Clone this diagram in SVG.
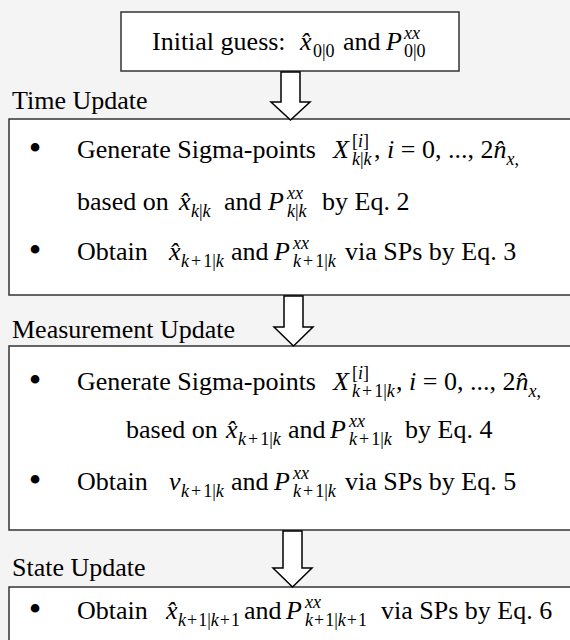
<svg xmlns="http://www.w3.org/2000/svg" width="570" height="640" viewBox="0 0 570 640">
<style>
.bg{fill:#f4f4f4}
.box{fill:#fff;stroke:#333;stroke-width:1.5}
.arr{fill:#fff;stroke:#000;stroke-width:1.5;stroke-linejoin:miter}
.t{font-family:"Liberation Serif","Times New Roman",serif;font-size:26px;fill:#000}
.b{font-family:"Liberation Serif","Times New Roman",serif;font-size:36px;fill:#000;text-anchor:middle}
.i{font-style:italic}
.s{font-size:18px}
</style>
<rect class="bg" x="0" y="0" width="570" height="640"/>
<g id="init">
<rect class="box" x="121" y="12" width="338" height="59"/>
<text class="t" x="152" y="50">Initial guess:<tspan class="i" x="300">x̂</tspan><tspan class="s" x="313" y="57">0|0</tspan><tspan x="343" y="50">and</tspan><tspan class="i" x="386">P</tspan><tspan class="s i" x="404" y="39">xx</tspan><tspan class="s" x="404" y="57">0|0</tspan></text>
</g>
<g id="time-update">
<text class="t" x="12" y="109">Time Update</text>
<rect class="box" x="9" y="119" width="570" height="176"/>
<text class="b" x="35" y="160">•</text>
<text class="t" x="77" y="158">Generate Sigma-points<tspan class="i" x="333">X</tspan><tspan class="s" x="352" y="147">[<tspan class="i">i</tspan>]</tspan><tspan class="s" x="352" y="165"><tspan class="i">k</tspan>|<tspan class="i">k</tspan></tspan><tspan x="374" y="158">, <tspan class="i">i</tspan> = 0, ..., 2<tspan class="i">n̂</tspan></tspan><tspan class="s i" y="165">x</tspan><tspan class="s">,</tspan></text>
<text class="t" x="77" y="210">based on<tspan class="i" x="179">x̂</tspan><tspan class="s" x="191" y="217"><tspan class="i">k</tspan>|<tspan class="i">k</tspan></tspan><tspan x="224" y="210">and</tspan><tspan class="i" x="268">P</tspan><tspan class="s i" x="287" y="199">xx</tspan><tspan class="s" x="287" y="217"><tspan class="i">k</tspan>|<tspan class="i">k</tspan></tspan><tspan x="322" y="210">by Eq. 2</tspan></text>
<text class="b" x="35" y="262">•</text>
<text class="t" x="77" y="260">Obtain<tspan class="i" x="169">x̂</tspan><tspan class="s" x="181" y="267"><tspan class="i">k</tspan><tspan dx="2">+</tspan><tspan dx="2">1|</tspan><tspan class="i">k</tspan></tspan><tspan x="231" y="260">and</tspan><tspan class="i" x="274">P</tspan><tspan class="s i" x="293" y="249">xx</tspan><tspan class="s" x="293" y="267"><tspan class="i">k</tspan><tspan dx="2">+</tspan><tspan dx="2">1|</tspan><tspan class="i">k</tspan></tspan><tspan x="345" y="260">via SPs by Eq. 3</tspan></text>
</g>
<g id="measurement-update">
<text class="t" x="12" y="338">Measurement Update</text>
<rect class="box" x="9" y="346" width="570" height="184"/>
<text class="b" x="35" y="392">•</text>
<text class="t" x="77" y="390">Generate Sigma-points<tspan class="i" x="333">X</tspan><tspan class="s" x="352" y="379">[<tspan class="i">i</tspan>]</tspan><tspan class="s" x="352" y="397"><tspan class="i">k</tspan><tspan dx="2">+</tspan><tspan dx="2">1|</tspan><tspan class="i">k</tspan></tspan><tspan x="396" y="390">, <tspan class="i">i</tspan> = 0, ..., 2<tspan class="i">n̂</tspan></tspan><tspan class="s i" y="397">x</tspan><tspan class="s">,</tspan></text>
<text class="t" x="126" y="438">based on<tspan class="i" x="226">x̂</tspan><tspan class="s" x="238" y="445"><tspan class="i">k</tspan><tspan dx="2">+</tspan><tspan dx="2">1|</tspan><tspan class="i">k</tspan></tspan><tspan x="288" y="438">and</tspan><tspan class="i" x="330">P</tspan><tspan class="s i" x="349" y="427">xx</tspan><tspan class="s" x="349" y="445"><tspan class="i">k</tspan><tspan dx="2">+</tspan><tspan dx="2">1|</tspan><tspan class="i">k</tspan></tspan><tspan x="405" y="438">by Eq. 4</tspan></text>
<text class="b" x="35" y="492">•</text>
<text class="t" x="77" y="490">Obtain<tspan class="i" x="169">v</tspan><tspan class="s" x="181" y="497"><tspan class="i">k</tspan><tspan dx="2">+</tspan><tspan dx="2">1|</tspan><tspan class="i">k</tspan></tspan><tspan x="231" y="490">and</tspan><tspan class="i" x="274">P</tspan><tspan class="s i" x="293" y="479">xx</tspan><tspan class="s" x="293" y="497"><tspan class="i">k</tspan><tspan dx="2">+</tspan><tspan dx="2">1|</tspan><tspan class="i">k</tspan></tspan><tspan x="345" y="490">via SPs by Eq. 5</tspan></text>
</g>
<g id="state-update">
<text class="t" x="12" y="576">State Update</text>
<rect class="box" x="9" y="587" width="570" height="70"/>
<text class="b" x="35" y="621">•</text>
<text class="t" x="77" y="619">Obtain<tspan class="i" x="166">x̂</tspan><tspan class="s" x="178" y="626"><tspan class="i">k</tspan><tspan dx="1">+</tspan><tspan dx="1">1|</tspan><tspan class="i">k</tspan><tspan dx="1">+</tspan><tspan dx="1">1</tspan></tspan><tspan x="244" y="619">and</tspan><tspan class="i" x="286">P</tspan><tspan class="s i" x="305" y="608">xx</tspan><tspan class="s" x="305" y="626"><tspan class="i">k</tspan><tspan dx="1">+</tspan><tspan dx="1">1|</tspan><tspan class="i">k</tspan><tspan dx="1">+</tspan><tspan dx="1">1</tspan></tspan><tspan x="381" y="619">via SPs by Eq. 6</tspan></text>
</g>
<g id="connectors">
<polygon class="arr" points="281,72 300,72 300,102 310,102 290.5,120 271,102 281,102"/>
<polygon class="arr" points="284,296 303,296 303,327 313,327 293.5,346 274,327 284,327"/>
<polygon class="arr" points="283,531 302,531 302,568 312,568 292.5,587 273,568 283,568"/>
</g>
</svg>
